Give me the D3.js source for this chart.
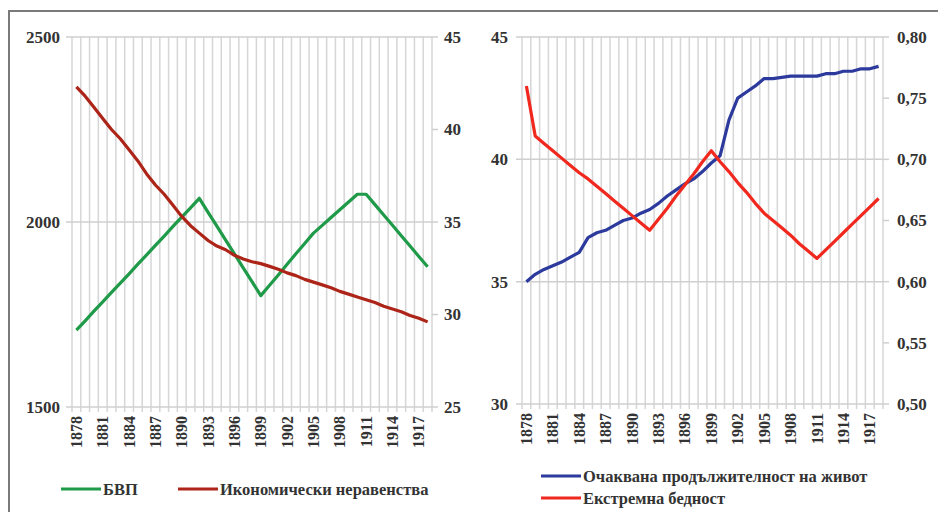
<!DOCTYPE html>
<html>
<head>
<meta charset="utf-8">
<script src="https://cdn.jsdelivr.net/npm/d3@7"></script>
<style>
  body { margin: 0; background: #fff; }
  svg text { font-family: "Liberation Serif", "DejaVu Serif", serif; font-weight: bold; fill: #333; }
</style>
</head>
<body>
<svg id="chart" width="938" height="512"></svg>
<script>
// години 1878 - 1918
const years = d3.range(1878, 1919)
const yearTicks = [1878, 1881, 1884, 1887, 1890, 1893, 1896, 1899, 1902, 1905, 1908, 1911, 1914, 1917]

// ляв график
const gdp = [1708, 1733, 1759, 1784, 1810, 1835, 1860, 1886, 1911, 1937, 1962, 1988, 2013, 2038, 2064,
    2026, 1989, 1951, 1914, 1876, 1839, 1801, 1829, 1857, 1886, 1914, 1942, 1970, 1991, 2012, 2033,
    2054, 2075, 2075, 2047, 2019, 1991, 1963, 1935, 1907, 1879]
const inequality = [42.3, 41.8, 41.2, 40.6, 40.0, 39.5, 38.9, 38.3, 37.6, 37.0, 36.5, 35.9, 35.3, 34.8,
    34.4, 34.0, 33.7, 33.5, 33.2, 33.0, 32.85, 32.75, 32.6, 32.45, 32.25, 32.1, 31.9, 31.75, 31.6, 31.45,
    31.25, 31.1, 30.95, 30.8, 30.65, 30.45, 30.3, 30.15, 29.95, 29.8, 29.6]
const gdpTicks = [1500, 2000, 2500]
const inequalityTicks = [25, 30, 35, 40, 45]

// десен график
const lifeExp = [35.0, 35.3, 35.5, 35.65, 35.8, 36.0, 36.2, 36.8, 37.0, 37.1, 37.3, 37.5, 37.6, 37.8,
    37.95, 38.2, 38.5, 38.75, 39.0, 39.2, 39.5, 39.85, 40.15, 41.6, 42.5, 42.75, 43.0, 43.3, 43.3, 43.35,
    43.4, 43.4, 43.4, 43.4, 43.5, 43.5, 43.6, 43.6, 43.7, 43.7, 43.8]
const poverty = [0.760, 0.719, 0.713, 0.707, 0.701, 0.695, 0.689, 0.684, 0.678, 0.672, 0.666, 0.660,
    0.654, 0.648, 0.642, 0.651, 0.660, 0.670, 0.679, 0.688, 0.698, 0.707, 0.698, 0.690, 0.681, 0.673,
    0.664, 0.656, 0.650, 0.644, 0.638, 0.631, 0.625, 0.619, 0.626, 0.633, 0.640, 0.647, 0.654, 0.661, 0.668]
const lifeTicks = [30, 35, 40, 45]
const povertyTicks = [0.50, 0.55, 0.60, 0.65, 0.70, 0.75, 0.80]

let svg = d3.select("#chart")

// рамка
svg.append("path")
    .attr("d", "M9,512 V11 H938")
    .attr("fill", "none")
    .attr("stroke", "#7a7a7a")
    .attr("stroke-width", 2)

function drawPanel(p) {
    let g = svg.append("g")
    let x = d3.scaleBand().domain(years).range([p.x0, p.x1]).padding(0)
    let yL = d3.scaleLinear().domain(p.leftDomain).range([p.y1, p.y0])
    let yR = d3.scaleLinear().domain(p.rightDomain).range([p.y1, p.y0])

    //вертикални линии между категориите
    let bounds = years.map(d => x(d)).concat([p.x1])
    g.append("g")
        .selectAll("line")
        .data(bounds)
        .enter()
        .append("line")
        .attr("x1", d => d)
        .attr("x2", d => d)
        .attr("y1", p.y0)
        .attr("y2", p.y1 + 5)
        .attr("stroke", "#d6d6d6")
        .attr("stroke-width", 1.5)

    //хоризонтални линии
    g.append("g")
        .selectAll("line")
        .data(p.leftTicks)
        .enter()
        .append("line")
        .attr("x1", p.x0 - 6)
        .attr("x2", p.x1)
        .attr("y1", d => yL(d))
        .attr("y2", d => yL(d))
        .attr("stroke", "#cfcfcf")
        .attr("stroke-width", 1.5)

    // дясна ос - малки чертички
    g.append("g")
        .selectAll("line")
        .data(p.rightTicks)
        .enter()
        .append("line")
        .attr("x1", p.x1)
        .attr("x2", p.x1 + 6)
        .attr("y1", d => yR(d))
        .attr("y2", d => yR(d))
        .attr("stroke", "#cfcfcf")
        .attr("stroke-width", 1.5)

    let leftAxis = g.append("g")
        .attr("transform", `translate(${p.x0},0)`)
        .call(d3.axisLeft(yL).tickValues(p.leftTicks).tickSize(0).tickPadding(p.leftPad).tickFormat(p.leftFormat))
    let rightAxis = g.append("g")
        .attr("transform", `translate(${p.x1},0)`)
        .call(d3.axisRight(yR).tickValues(p.rightTicks).tickSize(0).tickPadding(p.rightPad).tickFormat(p.rightFormat))
    let bottomAxis = g.append("g")
        .attr("transform", `translate(0,${p.y1})`)
        .call(d3.axisBottom(x).tickValues(yearTicks).tickSize(0).tickPadding(0))
    ;[leftAxis, rightAxis, bottomAxis].forEach(a => {
        a.select(".domain").remove()
        a.selectAll("text").style("font-size", "17px").attr("fill", "#333")
    })
    bottomAxis.selectAll("text")
        .style("font-size", "16px")
        .attr("transform", "rotate(-90)")
        .attr("text-anchor", "end")
        .attr("x", -9)
        .attr("y", 0)
        .attr("dy", "0.35em")

    let cx = d => x(d) + x.bandwidth() / 2
    g.append("path")
        .datum(p.leftSeries)
        .attr("fill", "none")
        .attr("stroke", p.leftColor)
        .attr("stroke-width", 3.2)
        .attr("stroke-linejoin", "round")
        .attr("d", d3.line().x((d, i) => cx(years[i])).y(d => yL(d)))
    g.append("path")
        .datum(p.rightSeries)
        .attr("fill", "none")
        .attr("stroke", p.rightColor)
        .attr("stroke-width", 3.2)
        .attr("stroke-linejoin", "round")
        .attr("d", d3.line().x((d, i) => cx(years[i])).y(d => yR(d)))

    // легенда
    let leg = g.append("g")
        .selectAll("g")
        .data(p.legend)
        .enter()
        .append("g")
        .attr("transform", d => `translate(${d.x},${d.y})`)
    leg.append("line")
        .attr("x1", 0)
        .attr("x2", 40)
        .attr("stroke", d => d.color)
        .attr("stroke-width", 3.2)
    leg.append("text")
        .attr("x", 42)
        .attr("dy", "0.35em")
        .style("font-size", "16.5px")
        .text(d => d.name)
}

let comma = d => d3.format(".2f")(d).replace(".", ",")

drawPanel({
    x0: 72, x1: 432, y0: 37, y1: 407,
    leftDomain: [1500, 2500], rightDomain: [25, 45],
    leftTicks: gdpTicks, rightTicks: inequalityTicks,
    leftPad: 12, rightPad: 12,
    leftFormat: d3.format("d"), rightFormat: d3.format("d"),
    leftSeries: gdp, rightSeries: inequality,
    leftColor: "#1e9a48", rightColor: "#ad2418",
    legend: [
        {name: "БВП", color: "#1e9a48", x: 61, y: 489},
        {name: "Икономически неравенства", color: "#ad2418", x: 178, y: 489}
    ]
})

drawPanel({
    x0: 522, x1: 883, y0: 37, y1: 404,
    leftDomain: [30, 45], rightDomain: [0.50, 0.80],
    leftTicks: lifeTicks, rightTicks: povertyTicks,
    leftPad: 14, rightPad: 14,
    leftFormat: d3.format("d"), rightFormat: comma,
    leftSeries: lifeExp, rightSeries: poverty,
    leftColor: "#2b3a9c", rightColor: "#f0281e",
    legend: [
        {name: "Очаквана продължителност на живот", color: "#2b3a9c", x: 541, y: 476},
        {name: "Екстремна бедност", color: "#f0281e", x: 541, y: 498}
    ]
})
</script>
</body>
</html>
